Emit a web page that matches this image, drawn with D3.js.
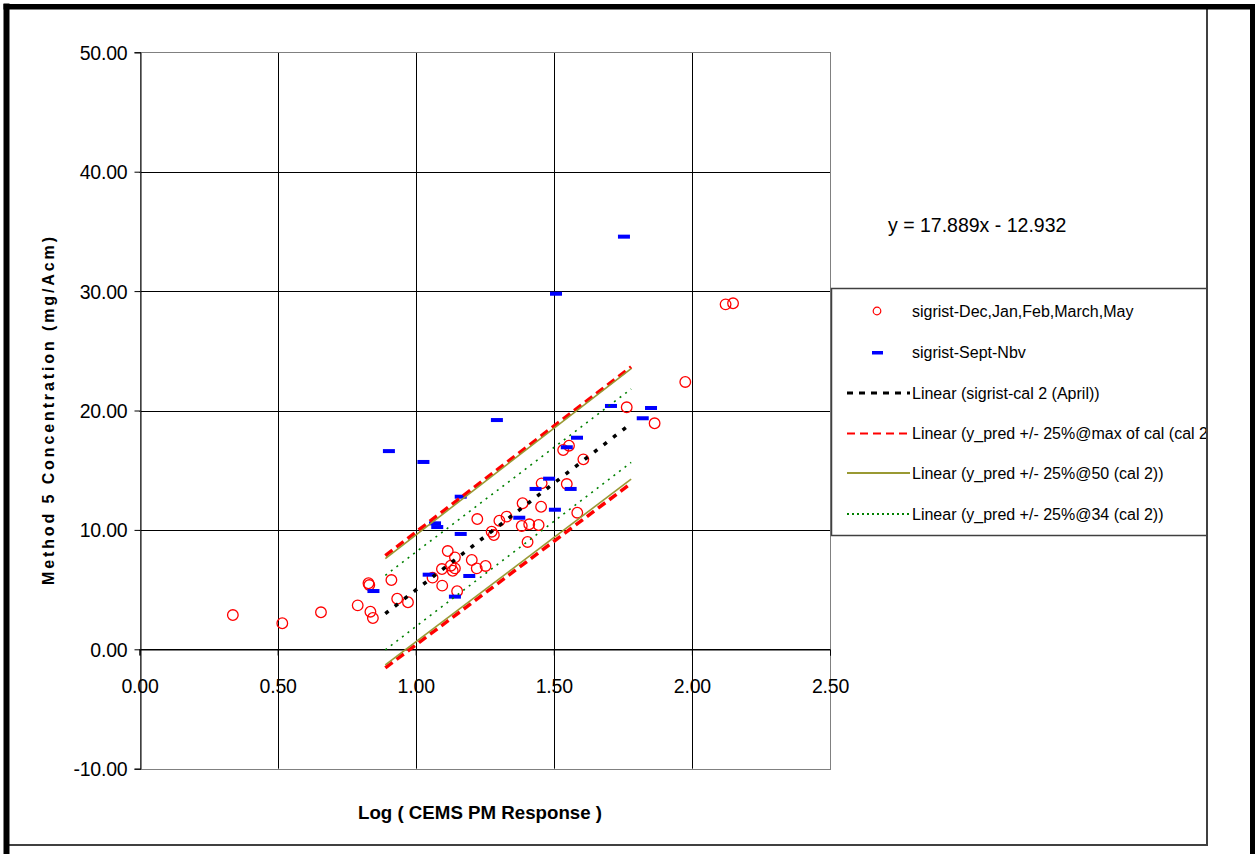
<!DOCTYPE html>
<html>
<head>
<meta charset="utf-8">
<script src="https://cdn.jsdelivr.net/npm/d3@7"></script>
<style>
  html, body { margin: 0; padding: 0; background: #fff; }
  svg { display: block; }
  text { font-family: "Liberation Sans", Arial, Helvetica, sans-serif; }
</style>
</head>
<body>
<svg id="chart" width="1255" height="854"></svg>
<script>
// ---- data ----
// sigrist-Dec,Jan,Feb,March,May : [log CEMS response, Method 5 conc]
const redX = [0.338, 0.517, 0.657, 0.790, 0.829, 0.832, 0.836, 0.845, 0.912, 0.933,
              0.972, 1.061, 1.095, 1.096, 1.116, 1.127, 1.134, 1.142, 1.142, 1.150,
              1.203, 1.221, 1.223, 1.253, 1.275, 1.283, 1.303, 1.329, 1.384, 1.387,
              1.405, 1.411, 1.445, 1.454, 1.456, 1.534, 1.547, 1.555, 1.585, 1.607,
              1.764, 1.865, 1.976, 2.122, 2.149];
const redY = [2.87, 2.18, 3.10, 3.68, 5.53, 5.38, 3.15, 2.62, 5.80, 4.24,
              3.94, 6.00, 6.72, 5.33, 8.23, 7.00, 6.58, 6.78, 7.70, 4.86,
              7.48, 6.78, 10.91, 6.98, 9.85, 9.57, 10.77, 11.11, 10.33, 12.23,
              8.99, 10.47, 10.41, 11.94, 13.90, 16.69, 13.84, 17.05, 11.44, 15.91,
              20.27, 18.93, 22.39, 28.89, 28.98];

// sigrist-Sept-Nbv
const blueX = [0.847, 0.903, 1.028, 1.047, 1.070, 1.078, 1.142, 1.163, 1.163, 1.194,
               1.294, 1.375, 1.434, 1.483, 1.504, 1.508, 1.547, 1.561, 1.584, 1.707,
               1.754, 1.822, 1.852];
const blueY = [4.88, 16.60, 15.69, 6.25, 10.55, 10.24, 4.41, 12.78, 9.66, 6.14,
               19.20, 11.02, 13.43, 14.29, 11.69, 29.78, 16.92, 13.43, 17.72, 20.38,
               34.56, 19.35, 20.21];

// calibration fit: y = 17.889x - 12.932, drawn over the calibration range
const calSlope = 17.889;
const calIntercept = -12.932;
const trendRange = [0.89, 1.78];

// linear trendlines of the prediction bands: [y at start, y at end] of trendRange
const bandMaxUpper = [7.85, 23.65];
const bandMaxLower = [-1.55, 13.90];
const band50Upper = [7.60, 23.50];
const band50Lower = [-1.30, 14.25];
const band34Upper = [6.20, 21.80];
const band34Lower = [-0.05, 15.65];

const xTicks = [0, 0.5, 1.0, 1.5, 2.0, 2.5];
const yTicks = [-10, 0, 10, 20, 30, 40, 50];

const legendLabels = [
  "sigrist-Dec,Jan,Feb,March,May",
  "sigrist-Sept-Nbv",
  "Linear (sigrist-cal 2 (April))",
  "Linear (y_pred +/- 25%@max of cal (cal 2))",
  "Linear (y_pred +/- 25%@50 (cal 2))",
  "Linear (y_pred +/- 25%@34 (cal 2))"
];
const equationText = "y = 17.889x - 12.932";
const xTitle = "Log ( CEMS PM Response )";
const yTitle = "Method 5 Concentration (mg/Acm)";

// ---- drawing ----
const svg = d3.select("#chart");
const FONT = "Liberation Sans, Arial, Helvetica, sans-serif";

const x = d3.scaleLinear().domain([0, 2.5]).range([139.5, 830]);
const y = d3.scaleLinear().domain([-10, 50]).range([768.7, 52.3]);

// chart area clip (the legend runs past the inner frame)
svg.append("defs").append("clipPath").attr("id", "areaClip")
  .append("rect").attr("x", 9).attr("y", 9).attr("width", 1197.5).attr("height", 835);

const area = svg.append("g").attr("clip-path", "url(#areaClip)");

// grid
area.append("g").selectAll("line.vg").data(xTicks.slice(1, -1)).join("line")
  .attr("x1", d => Math.round(x(d)) + 0.5).attr("x2", d => Math.round(x(d)) + 0.5)
  .attr("y1", y(50)).attr("y2", y(-10))
  .attr("stroke", "#000").attr("stroke-width", 1);
area.append("g").selectAll("line.hg").data(yTicks.slice(1, -1)).join("line")
  .attr("x1", x(0)).attr("x2", x(2.5))
  .attr("y1", d => Math.round(y(d)) + 0.5).attr("y2", d => Math.round(y(d)) + 0.5)
  .attr("stroke", "#000").attr("stroke-width", 1);

// plot border
area.append("rect")
  .attr("x", Math.round(x(0)) + 0.5).attr("y", Math.round(y(50)) + 0.5)
  .attr("width", Math.round(x(2.5)) - Math.round(x(0)))
  .attr("height", Math.round(y(-10)) - Math.round(y(50)))
  .attr("fill", "none").attr("stroke", "#808080").attr("stroke-width", 1);

// y axis at x = 0
const yAxis = d3.axisLeft(y).tickValues(yTicks).tickSize(6).tickPadding(8)
  .tickFormat(d => d.toFixed(2));
const gy = area.append("g").attr("transform", `translate(${Math.round(x(0)) + 0.5},0)`).call(yAxis);
gy.select(".domain").attr("stroke", "#000");
gy.selectAll(".tick line").attr("stroke", "#000");
gy.selectAll(".tick text").attr("font-family", FONT).attr("font-size", 19.5)
  .attr("fill", "#000").attr("x", -13).attr("dy", "0.36em").attr("letter-spacing", -0.2);

// x axis at y = 0
const xAxis = d3.axisBottom(x).tickValues(xTicks).tickSize(6)
  .tickFormat(d => d.toFixed(2));
const gx = area.append("g").attr("transform", `translate(0,${Math.round(y(0)) + 0.5})`).call(xAxis);
gx.select(".domain").attr("stroke", "#000");
gx.selectAll(".tick line").attr("stroke", "#000");
gx.selectAll(".tick text").attr("font-family", FONT).attr("font-size", 19.5)
  .attr("fill", "#000").attr("y", 43).attr("dy", null).attr("letter-spacing", -0.2);

// red circle series
area.append("g").selectAll("circle").data(redX.map((v, i) => [v, redY[i]])).join("circle")
  .attr("cx", d => x(d[0])).attr("cy", d => y(d[1])).attr("r", 5.3)
  .attr("fill", "none").attr("stroke", "#ff0000").attr("stroke-width", 1.3);

// blue dash series
area.append("g").selectAll("rect").data(blueX.map((v, i) => [v, blueY[i]])).join("rect")
  .attr("x", d => x(d[0]) - 6).attr("y", d => y(d[1]) - 2)
  .attr("width", 12).attr("height", 4).attr("fill", "#0000ff");

// trendlines
const line = d3.line().x(d => x(d[0])).y(d => y(d[1]));
const seg = ys => [[trendRange[0], ys[0]], [trendRange[1], ys[1]]];
const calLine = trendRange.map(v => [v, calSlope * v + calIntercept]);

const trendStyles = [
  { pts: calLine, color: "#000000", width: 3.5, dash: "4,8" },
  { pts: seg(bandMaxUpper), color: "#ff0000", width: 3.5, dash: "9,5" },
  { pts: seg(bandMaxLower), color: "#ff0000", width: 3.5, dash: "9,5" },
  { pts: seg(band50Upper), color: "#999933", width: 1.6, dash: null },
  { pts: seg(band50Lower), color: "#999933", width: 1.6, dash: null },
  { pts: seg(band34Upper), color: "#008000", width: 1.6, dash: "2,5" },
  { pts: seg(band34Lower), color: "#008000", width: 1.6, dash: "2,5" }
];
area.append("g").selectAll("path").data(trendStyles).join("path")
  .attr("d", d => line(d.pts)).attr("fill", "none")
  .attr("stroke", d => d.color).attr("stroke-width", d => d.width)
  .attr("stroke-dasharray", d => d.dash);

// equation label
area.append("text").attr("x", 888).attr("y", 232)
  .attr("font-size", 19.5).attr("font-family", FONT)
  .attr("fill", "#000").text(equationText);

// axis titles
area.append("text").attr("x", 480).attr("y", 819).attr("text-anchor", "middle")
  .attr("font-size", 18).attr("font-weight", "bold").attr("font-family", FONT)
  .attr("textLength", 244).attr("lengthAdjust", "spacingAndGlyphs")
  .text(xTitle);
area.append("text").attr("transform", "translate(54,411) rotate(-90)")
  .attr("text-anchor", "middle")
  .attr("font-size", 16).attr("font-weight", "bold").attr("font-family", FONT)
  .attr("textLength", 348).attr("lengthAdjust", "spacing")
  .text(yTitle);

// legend
const lg = area.append("g");
lg.append("rect").attr("x", 831.5).attr("y", 288.5).attr("width", 420).attr("height", 247)
  .attr("fill", "#fff").attr("stroke", "#404040").attr("stroke-width", 1.5);
const legendY = [311.5, 352.5, 393, 433.5, 473, 514];
const items = lg.selectAll("g.item").data(legendLabels).join("g")
  .attr("transform", (d, i) => `translate(0,${legendY[i]})`);
items.append("text").attr("x", 912).attr("y", 0).attr("dy", "0.35em")
  .attr("font-size", 16).attr("font-family", FONT).attr("fill", "#000")
  .text(d => d);
items.filter((d, i) => i === 0).append("circle")
  .attr("cx", 877).attr("cy", -0.5).attr("r", 3.8)
  .attr("fill", "none").attr("stroke", "#ff0000").attr("stroke-width", 1.2);
items.filter((d, i) => i === 1).append("rect")
  .attr("x", 872).attr("y", -1.5).attr("width", 11).attr("height", 3.5).attr("fill", "#0000ff");
const legendLines = [
  { color: "#000000", width: 3, dash: "6,6" },
  { color: "#ff0000", width: 2, dash: "8,5" },
  { color: "#999933", width: 2, dash: null },
  { color: "#008000", width: 2, dash: "2,3" }
];
items.filter((d, i) => i >= 2).each(function (d, i) {
  const s = legendLines[i];
  d3.select(this).append("line").attr("x1", 847).attr("x2", 910).attr("y1", 0).attr("y2", 0)
    .attr("stroke", s.color).attr("stroke-width", s.width).attr("stroke-dasharray", s.dash);
});

// chart area frame
svg.append("line").attr("x1", 1207).attr("x2", 1207).attr("y1", 9).attr("y2", 846)
  .attr("stroke", "#404040").attr("stroke-width", 2);
svg.append("line").attr("x1", 9).attr("x2", 1208).attr("y1", 845).attr("y2", 845)
  .attr("stroke", "#404040").attr("stroke-width", 2);
// heavy outer border (left, top, right)
svg.append("rect").attr("x", 3.5).attr("y", 3.5).attr("width", 6).attr("height", 851).attr("fill", "#000");
svg.append("rect").attr("x", 3.5).attr("y", 4).attr("width", 1251.5).attr("height", 5.5).attr("fill", "#000");
svg.append("rect").attr("x", 1250).attr("y", 4).attr("width", 5).attr("height", 850).attr("fill", "#000");
</script>
</body>
</html>
